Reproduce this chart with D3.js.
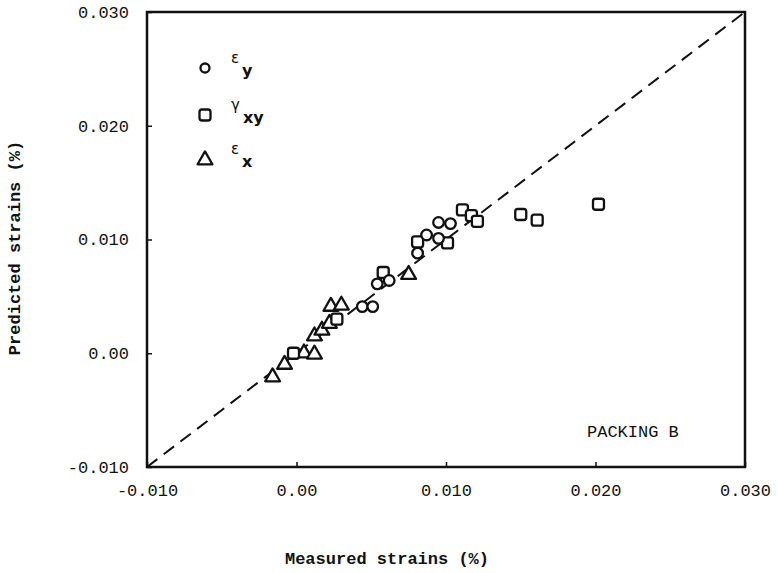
<!DOCTYPE html>
<html>
<head>
<meta charset="utf-8">
<script src="https://cdn.jsdelivr.net/npm/d3@7"></script>
<style>
  body { margin: 0; background: #fff; }
  .tick text { font-family: "Liberation Mono", monospace; font-size: 17px; fill: #111; }
</style>
</head>
<body>
<div class="chart"></div>
<script>
// measured (x) vs predicted (y) strains, in %
const epsY = [
  [0.0044, 0.0041], [0.0051, 0.0041], [0.0054, 0.0061], [0.0062, 0.0064],
  [0.0081, 0.0088], [0.0087, 0.0104], [0.0095, 0.0101], [0.0095, 0.0115],
  [0.0103, 0.0114]
];
const gammaXY = [
  [-0.0002, 0.0000], [0.0027, 0.0030], [0.0058, 0.0071], [0.0081, 0.0098],
  [0.0101, 0.0097], [0.0111, 0.0126], [0.0117, 0.0121], [0.0121, 0.0116],
  [0.0150, 0.0122], [0.0161, 0.0117], [0.0202, 0.0131]
];
const epsX = [
  [-0.0016, -0.0020], [-0.0008, -0.0009], [0.0005, 0.0001], [0.0012, 0.0000],
  [0.0012, 0.0016], [0.0017, 0.0021], [0.0022, 0.0027], [0.0023, 0.0042],
  [0.0030, 0.0043], [0.0075, 0.0070]
];
const xTicks = [-0.010, 0.00, 0.010, 0.020, 0.030];
const xTickLabels = ['-0.010', '0.00', '0.010', '0.020', '0.030'];
const yTicks = [-0.010, 0.00, 0.010, 0.020, 0.030];
const yTickLabels = ['-0.010', '0.00', '0.010', '0.020', '0.030'];

const W = 778, H = 573;
const margin = {top: 12, right: 33, bottom: 106, left: 147};
const width = W - margin.left - margin.right,
      height = H - margin.top - margin.bottom;

const x = d3.scaleLinear().domain([-0.010, 0.030]).range([0, width]);
const y = d3.scaleLinear().domain([-0.010, 0.030]).range([height, 0]);

const svg = d3.select('.chart').append('svg')
    .attr('width', W).attr('height', H)
  .append('g')
    .attr('transform', `translate(${margin.left},${margin.top})`);

// axes (ticks inward)
const xAxis = d3.axisBottom(x).tickValues(xTicks)
    .tickFormat((d, i) => xTickLabels[i]).tickSizeInner(-5).tickSizeOuter(0).tickPadding(17);
const yAxis = d3.axisLeft(y).tickValues(yTicks)
    .tickFormat((d, i) => yTickLabels[i]).tickSizeInner(-5).tickSizeOuter(0).tickPadding(18);

const gx = svg.append('g').attr('transform', `translate(0,${height})`).call(xAxis);
const gy = svg.append('g').call(yAxis);
[gx, gy].forEach(g => {
  g.select('.domain').remove();
  g.selectAll('.tick line').attr('stroke', '#111').attr('stroke-width', 1.5);
});
gy.selectAll('.tick text').attr('dy', '0.32em');

// frame
svg.append('rect')
    .attr('x', 0).attr('y', 0).attr('width', width).attr('height', height)
    .attr('fill', 'none').attr('stroke', '#111').attr('stroke-width', 2.5);

// 1:1 line
svg.append('line')
    .attr('x1', x(-0.010)).attr('y1', y(-0.010))
    .attr('x2', x(0.030)).attr('y2', y(0.030))
    .attr('stroke', '#111').attr('stroke-width', 2)
    .attr('stroke-dasharray', '13,8');

const mark = sel => sel.attr('fill', '#fff').attr('stroke', '#111')
    .attr('stroke-width', 2.3).attr('stroke-linejoin', 'round');

const sq = d3.symbol().type(d3.symbolSquare).size(110);
const tri = d3.symbol().type(d3.symbolTriangle).size(95);

svg.selectAll('.eps-x').data(epsX).enter().append('path')
    .attr('class', 'eps-x')
    .attr('d', tri)
    .attr('transform', d => `translate(${x(d[0])},${y(d[1]) + 1})`)
    .call(mark);

svg.selectAll('.gamma').data(gammaXY).enter().append('rect')
    .attr('class', 'gamma')
    .attr('x', d => x(d[0]) - 5.5).attr('y', d => y(d[1]) - 5.5)
    .attr('width', 11).attr('height', 11).attr('rx', 2.5)
    .call(mark);

svg.selectAll('.eps-y').data(epsY).enter().append('circle')
    .attr('class', 'eps-y')
    .attr('cx', d => x(d[0])).attr('cy', d => y(d[1]))
    .attr('r', 5.3)
    .call(mark);

// legend
const legend = svg.append('g').attr('transform', 'translate(58,0)');
const legendItems = [
  {sym: 'circle', main: 'ε', sub: 'y', y: 56},
  {sym: 'square', main: 'γ', sub: 'xy', y: 103},
  {sym: 'triangle', main: 'ε', sub: 'x', y: 147}
];
legendItems.forEach(it => {
  if (it.sym === 'circle') {
    legend.append('circle').attr('cx', 0).attr('cy', it.y).attr('r', 4.5).call(mark);
  } else if (it.sym === 'square') {
    legend.append('rect').attr('x', -5.5).attr('y', it.y - 5.5)
        .attr('width', 11).attr('height', 11).attr('rx', 2.5).call(mark);
  } else {
    legend.append('path').attr('d', tri).attr('transform', `translate(0,${it.y + 1})`).call(mark);
  }
  const t = legend.append('text')
      .attr('x', 26).attr('y', it.y - 5)
      .style('font-family', '"DejaVu Sans", sans-serif')
      .style('font-size', '15px').attr('fill', '#111');
  t.append('tspan').text(it.main);
  t.append('tspan').attr('dx', 3).attr('dy', 13)
      .style('font-weight', 'bold').style('font-size', '16px').text(it.sub);
});

// annotation
svg.append('text')
    .attr('x', 440).attr('y', 425)
    .style('font-family', '"Liberation Mono", monospace')
    .style('font-size', '17px').attr('fill', '#111')
    .text('PACKING B');

// axis titles
svg.append('text')
    .attr('x', 240).attr('y', height + 97)
    .attr('text-anchor', 'middle')
    .style('font-family', '"Liberation Mono", monospace')
    .style('font-size', '17px').style('font-weight', 'bold').attr('fill', '#111')
    .text('Measured strains (%)');

svg.append('text')
    .attr('transform', `translate(${-127},${236}) rotate(-90)`)
    .attr('text-anchor', 'middle')
    .style('font-family', '"Liberation Mono", monospace')
    .style('font-size', '17px').style('font-weight', 'bold').attr('fill', '#111')
    .text('Predicted strains (%)');
</script>
</body>
</html>
